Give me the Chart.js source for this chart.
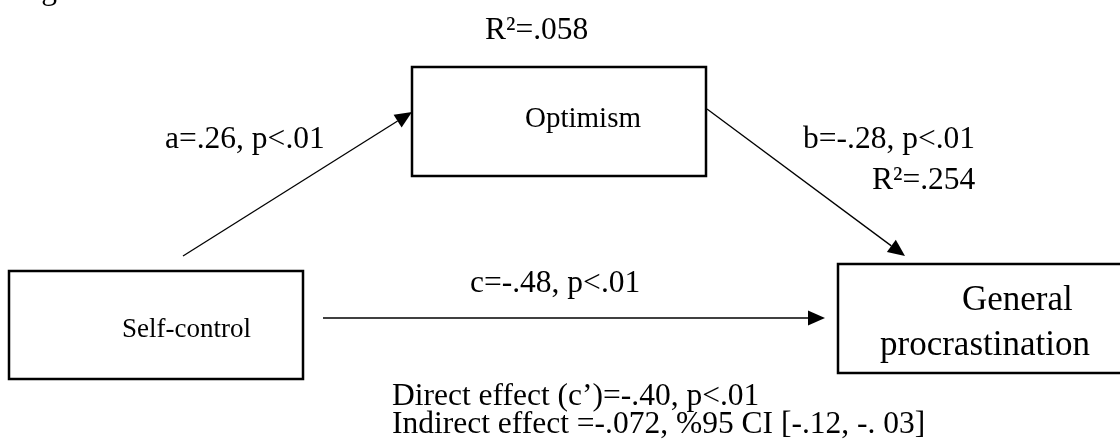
<!DOCTYPE html>
<html>
<head>
<meta charset="utf-8">
<style>
  html, body { margin: 0; padding: 0; background: #ffffff; }
  #wrap { width: 1120px; height: 445px; position: relative; }
</style>
<script src="https://cdn.jsdelivr.net/npm/chart.js@4.4.1/dist/chart.umd.min.js"></script>
</head>
<body>
<div id="wrap"><canvas id="diagram"></canvas></div>
<script>
// ---------- data ----------
const figureCaption = 'Figure 1.';
const nodeNames = ['Self-control', 'Optimism', 'General procrastination'];
const pathNames = ['a', 'b', 'c'];
const pathCoefficients = ['.26', '-.28', '-.48'];
const pathPValues = ['<.01', '<.01', '<.01'];
const rSquaredValues = ['.058', '.254'];
const directEffect = { name: "c’", value: '-.40', p: '<.01' };
const indirectEffect = { value: '-.072', ciLevel: '%95', ciLower: '-.12', ciUpper: '-. 03' };

// ---------- layout (diagram units: 0..1120 by 0..445, y downward) ----------
const layout = {
  boxes: [
    { x0: 9,   y0: 271, x1: 303,  y1: 379, font: 27, lines: [{ dx: 113, y: 337 }] },
    { x0: 412, y0: 67,  x1: 706,  y1: 176, font: 29, lines: [{ dx: 113, y: 127 }] },
    { x0: 838, y0: 264, x1: 1126, y1: 373, font: 35, lines: [{ dx: 124, y: 310 }, { dx: 42, y: 355 }] }
  ],
  arrows: [
    { from: [183, 256], to: [412, 112] },
    { from: [707, 109], to: [905, 256] },
    { from: [323, 318], to: [825, 318] }
  ],
  pathLabels: [ { x: 165, y: 148 }, { x: 803, y: 148 }, { x: 470, y: 292 } ],
  r2Labels: [ { x: 485, y: 39 }, { x: 872, y: 189 } ],
  effects: [ { x: 392, y: 405 }, { x: 392, y: 433 } ],
  caption: { x: 15, y: -1 }
};

const serif = '"Liberation Serif", "Times New Roman", serif';
const statFont = '31.5px ' + serif;

function pathLabel(i) {
  return pathNames[i] + '=' + pathCoefficients[i] + ', p' + pathPValues[i];
}

const diagramPlugin = {
  id: 'pathDiagram',
  afterDraw(chart) {
    const { ctx } = chart;
    const sx = chart.scales.x, sy = chart.scales.y;
    const px = v => sx.getPixelForValue(v);
    const py = v => sy.getPixelForValue(v);
    ctx.save();
    ctx.fillStyle = '#000';
    ctx.strokeStyle = '#000';
    ctx.textBaseline = 'alphabetic';
    ctx.textAlign = 'left';

    // caption (cut off at the top)
    ctx.font = statFont;
    ctx.fillText(figureCaption, px(layout.caption.x), py(layout.caption.y));

    // boxes
    layout.boxes.forEach((b, i) => {
      ctx.lineWidth = 2.5;
      ctx.strokeRect(px(b.x0), py(b.y0), px(b.x1) - px(b.x0), py(b.y1) - py(b.y0));
      ctx.font = b.font + 'px ' + serif;
      const parts = b.lines.length > 1 ? nodeNames[i].split(' ') : [nodeNames[i]];
      b.lines.forEach((ln, k) => {
        ctx.fillText(parts[k], px(b.x0 + ln.dx), py(ln.y));
      });
    });

    // arrows
    layout.arrows.forEach(a => {
      const x0 = px(a.from[0]), y0 = py(a.from[1]);
      const x1 = px(a.to[0]), y1 = py(a.to[1]);
      const ang = Math.atan2(y1 - y0, x1 - x0);
      const headLen = 17, headHalf = 7.5;
      const bx = x1 - headLen * Math.cos(ang), by = y1 - headLen * Math.sin(ang);
      ctx.lineWidth = 1.3;
      ctx.beginPath();
      ctx.moveTo(x0, y0);
      ctx.lineTo(bx, by);
      ctx.stroke();
      ctx.beginPath();
      ctx.moveTo(x1, y1);
      ctx.lineTo(bx + headHalf * Math.sin(ang), by - headHalf * Math.cos(ang));
      ctx.lineTo(bx - headHalf * Math.sin(ang), by + headHalf * Math.cos(ang));
      ctx.closePath();
      ctx.fill();
    });

    // path labels
    ctx.font = statFont;
    layout.pathLabels.forEach((p, i) => ctx.fillText(pathLabel(i), px(p.x), py(p.y)));
    layout.r2Labels.forEach((p, i) => ctx.fillText('R²=' + rSquaredValues[i], px(p.x), py(p.y)));

    // effects
    const l1 = 'Direct effect (' + directEffect.name + ')=' + directEffect.value + ', p' + directEffect.p;
    const l2 = 'Indirect effect =' + indirectEffect.value + ', ' + indirectEffect.ciLevel + ' CI [' +
               indirectEffect.ciLower + ', ' + indirectEffect.ciUpper + ']';
    ctx.fillText(l1, px(layout.effects[0].x), py(layout.effects[0].y));
    ctx.fillText(l2, px(layout.effects[1].x), py(layout.effects[1].y));
    ctx.restore();
  }
};

new Chart(document.getElementById('diagram'), {
  type: 'scatter',
  data: { datasets: [] },
  options: {
    responsive: true,
    maintainAspectRatio: false,
    animation: false,
    layout: { padding: 0 },
    plugins: { legend: { display: false }, tooltip: { enabled: false } },
    scales: {
      x: { type: 'linear', min: 0, max: 1120, display: false },
      y: { type: 'linear', min: 0, max: 445, reverse: true, display: false }
    }
  },
  plugins: [diagramPlugin]
});
</script>
</body>
</html>
